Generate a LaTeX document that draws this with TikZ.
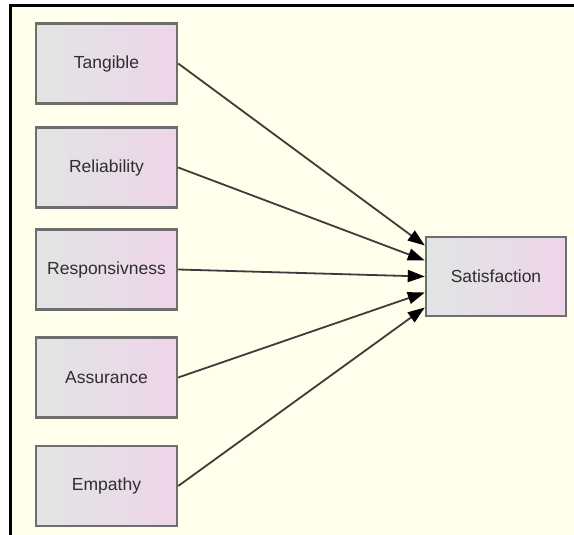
\documentclass[tikz,border=0pt]{standalone}
\usepackage{fontspec}
\setmainfont{Liberation Sans}
\usetikzlibrary{arrows.meta}
\definecolor{paper}{HTML}{FFFFEC}
\definecolor{boxl}{HTML}{E1E5E4}
\definecolor{boxr}{HTML}{EED5EA}
\definecolor{boxedge}{HTML}{6E6E6E}
\definecolor{label}{HTML}{2E2E2E}
\definecolor{wire}{HTML}{3C3C3C}
\tikzset{
  construct/.style={draw=boxedge, line width=2.4pt, left color=boxl, right color=boxr,
    minimum width=141pt, minimum height=80pt, inner sep=0pt,
    text=label, font=\fontsize{17.5}{20}\selectfont},
  path/.style={draw=wire, line width=1.8pt,
    -{Triangle[length=17pt,width=12pt,color=black]}}
}
\begin{document}
\begin{tikzpicture}[x=1pt,y=-1pt]
  % page and frame
  \useasboundingbox (0,0) rectangle (574,535);
  \fill[white] (0,0) rectangle (574,535);
  \fill[paper] (10,6) rectangle (574,535);
  \draw[black, line width=3pt] (10,535) -- (10,6) -- (574,6);

  % service-quality dimensions
  \node[construct] (tan) at (106.5,63.5) {Tangible};
  \node[construct] (rel) at (106.5,167.5) {Reliability};
  \node[construct] (res) at (106.5,269.5) {Responsivness};
  \node[construct] (ass) at (106.5,377.5) {Assurance};
  \node[construct] (emp) at (106.5,486) {Empathy};

  % outcome
  \node[construct, minimum width=140pt, minimum height=79pt] (sat) at (496,276.5) {Satisfaction};

  % paths into the outcome (yshift is measured upwards on the page)
  \draw[path] (tan.east) -- ([yshift=31pt]sat.west);
  \draw[path] (rel.east) -- ([yshift=16pt]sat.west);
  \draw[path] (res.east) -- (sat.west);
  \draw[path] (ass.east) -- ([yshift=-16pt]sat.west);
  \draw[path] (emp.east) -- ([yshift=-31pt]sat.west);
\end{tikzpicture}
\end{document}
